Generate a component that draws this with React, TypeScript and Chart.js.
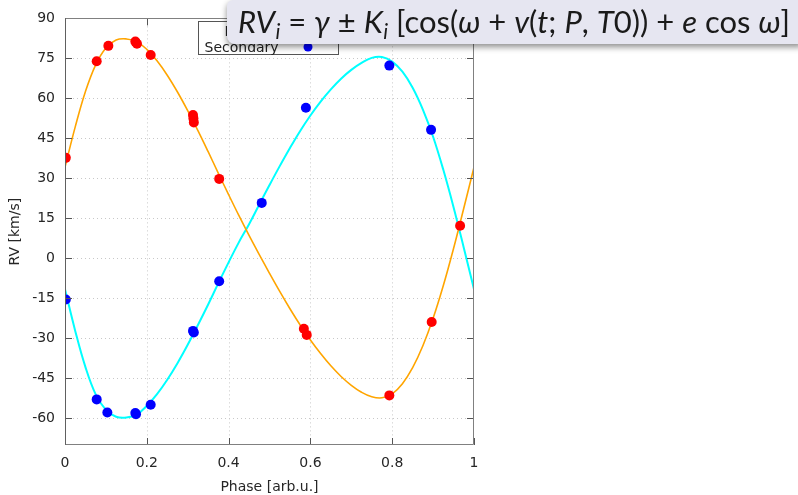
import React, { useEffect, useRef } from 'react';
import { Chart, registerables } from 'chart.js';

Chart.register(...registerables);

// Model curves
const CURVE_PHASE = [0, 0.025, 0.05, 0.075, 0.1, 0.125, 0.15, 0.175, 0.2, 0.225, 0.25, 0.275, 0.3, 0.325, 0.35, 0.375, 0.4, 0.425, 0.45, 0.475, 0.5, 0.525, 0.55, 0.575, 0.6, 0.625, 0.65, 0.675, 0.7, 0.725, 0.75, 0.775, 0.8, 0.825, 0.85, 0.875, 0.9, 0.925, 0.95, 0.975, 1];
const PRIMARY_CURVE = [34.2, 49.3, 62.6, 72.6, 78.9, 81.9, 82.3, 81.3, 78.4, 74.1, 68.7, 62.4, 55.4, 47.9, 40.0, 31.9, 23.9, 16.1, 8.6, 1.4, -5.6, -12.4, -18.9, -25.0, -30.6, -35.7, -40.3, -44.3, -47.6, -50.2, -51.9, -52.3, -50.8, -47.0, -41.0, -32.8, -22.5, -10.2, 3.7, 18.8, 34.2];
const SECONDARY_CURVE = [-11.6, -27.2, -40.8, -51.0, -56.8, -59.4, -59.7, -58.6, -55.3, -50.9, -45.5, -39.3, -32.4, -25.0, -17.3, -9.3, -1.5, 6.0, 12.8, 20.2, 27.5, 34.6, 41.4, 47.8, 53.6, 58.8, 63.4, 67.4, 70.7, 73.3, 75.2, 75.5, 73.8, 70.0, 64.0, 55.8, 45.6, 33.2, 19.2, 4.0, -11.6];

// Measured points
const PRIMARY_PHASE = [0.002, 0.0775, 0.106, 0.172, 0.176, 0.2095, 0.313, 0.314, 0.315, 0.377, 0.584, 0.591, 0.793, 0.8965, 0.966];
const PRIMARY_RV = [37.7, 73.9, 79.7, 81.3, 80.5, 76.3, 53.8, 52.5, 51, 29.8, -26.4, -28.7, -51.4, -23.9, 12.2];
const SECONDARY_PHASE = [0.002, 0.0775, 0.1035, 0.172, 0.1736, 0.2095, 0.313, 0.315, 0.377, 0.481, 0.589, 0.793, 0.895];
const SECONDARY_RV = [-15.4, -52.9, -57.8, -58, -58.5, -54.9, -27.2, -27.8, -8.6, 20.8, 56.5, 72.3, 48.2];

const X_TICKS = [0, 0.2, 0.4, 0.6, 0.8, 1];
const X_TICK_LABELS = ['0', '0.2', '0.4', '0.6', '0.8', '1'];
const Y_TICKS = [-60, -45, -30, -15, 0, 15, 30, 45, 60, 75, 90];
const LEGEND_LABELS = ['Primary', 'Secondary'];

const FONT = 'DejaVu Sans';

const pts = (xs: number[], ys: number[]) => xs.map((x, i) => ({ x, y: ys[i] }));

const framePlugin = {
  id: 'gnuFrame',
  beforeDatasetsDraw(chart: any) {
    const { ctx, chartArea: a, scales } = chart;
    const x = scales.x, y = scales.y;
    ctx.save();
    ctx.strokeStyle = '#c8c8c8';
    ctx.lineWidth = 1;
    ctx.setLineDash([1, 3]);
    for (const v of Y_TICKS) {
      if (v <= y.min || v >= y.max) continue;
      const py = Math.round(y.getPixelForValue(v)) + 0.5;
      ctx.beginPath(); ctx.moveTo(a.left, py); ctx.lineTo(a.right, py); ctx.stroke();
    }
    for (const v of X_TICKS) {
      if (v <= x.min || v >= x.max) continue;
      const px = Math.round(x.getPixelForValue(v)) + 0.5;
      ctx.beginPath(); ctx.moveTo(px, a.top); ctx.lineTo(px, a.bottom); ctx.stroke();
    }
    ctx.restore();
  },
  afterDatasetsDraw(chart: any) {
    const { ctx, chartArea: a, scales } = chart;
    const x = scales.x, y = scales.y;
    ctx.save();
    // ticks
    ctx.strokeStyle = '#555';
    ctx.lineWidth = 1;
    const TL = 7;
    for (const v of Y_TICKS) {
      const py = Math.round(y.getPixelForValue(v)) + 0.5;
      ctx.beginPath();
      ctx.moveTo(a.left, py); ctx.lineTo(a.left + TL, py);
      ctx.moveTo(a.right, py); ctx.lineTo(a.right - TL, py);
      ctx.stroke();
    }
    for (const v of X_TICKS) {
      const px = Math.round(x.getPixelForValue(v)) + 0.5;
      ctx.beginPath();
      ctx.moveTo(px, a.bottom); ctx.lineTo(px, a.bottom - TL);
      ctx.moveTo(px, a.top); ctx.lineTo(px, a.top + TL);
      ctx.stroke();
    }
    // frame
    ctx.strokeStyle = '#808080';
    const l = Math.round(a.left) + 0.5, r = Math.round(a.right) - 0.5;
    const t = Math.round(a.top) + 0.5, b = Math.round(a.bottom) - 0.5;
    ctx.beginPath();
    ctx.moveTo(l, t); ctx.lineTo(r, t); ctx.lineTo(r, b); ctx.lineTo(l, b);
    ctx.stroke();
    ctx.strokeStyle = '#606060';
    ctx.beginPath(); ctx.moveTo(l, t); ctx.lineTo(l, b); ctx.stroke();

    // legend box (gnuplot style: right-justified text, then sample)
    const bx = 198.5, by = 21.5, bw = 140, bh = 33;
    ctx.fillStyle = '#ffffff';
    ctx.fillRect(bx, by, bw, bh);
    ctx.strokeStyle = '#555';
    ctx.strokeRect(bx, by, bw, bh);
    ctx.font = `14px "${FONT}"`;
    ctx.textBaseline = 'middle';
    ctx.textAlign = 'right';
    const textRight = bx + 6 + Math.max(...LEGEND_LABELS.map((s) => ctx.measureText(s).width));
    const colors = ['#ff0000', '#0000ff'];
    LEGEND_LABELS.forEach((lab, i) => {
      const cy = by + 10.5 + i * 16;
      ctx.fillStyle = '#222';
      ctx.fillText(lab, textRight, cy);
      ctx.fillStyle = colors[i];
      ctx.beginPath(); ctx.arc(308, cy - 1, 4.5, 0, Math.PI * 2); ctx.fill();
    });
    ctx.restore();
  },
};

export default function App() {
  const ref = useRef<HTMLCanvasElement | null>(null);
  useEffect(() => {
    if (!ref.current) return;
    const chart = new Chart(ref.current, {
      type: 'scatter',
      data: {
        datasets: [
          {
            label: 'Primary',
            data: pts(PRIMARY_PHASE, PRIMARY_RV),
            backgroundColor: '#ff0000',
            borderColor: '#ff0000',
            pointRadius: 5,
            pointBorderWidth: 0,
            showLine: false,
          },
          {
            label: 'Secondary',
            data: pts(SECONDARY_PHASE, SECONDARY_RV),
            backgroundColor: '#0000ff',
            borderColor: '#0000ff',
            pointRadius: 5,
            pointBorderWidth: 0,
            showLine: false,
          },
          {
            label: 'Primary model',
            data: pts(CURVE_PHASE, PRIMARY_CURVE),
            borderColor: '#ffa500',
            borderWidth: 1.6,
            pointRadius: 0,
            showLine: true,
            tension: 0.4,
          },
          {
            label: 'Secondary model',
            data: pts(CURVE_PHASE, SECONDARY_CURVE),
            borderColor: '#00ffff',
            borderWidth: 2,
            pointRadius: 0,
            showLine: true,
            tension: 0.4,
          },
        ],
      } as any,
      options: {
        animation: false,
        responsive: false,
        devicePixelRatio: 1,
        layout: { padding: { top: 15, right: 324, left: 0, bottom: 0 } },
        plugins: { legend: { display: false }, tooltip: { enabled: false } },
        scales: {
          x: {
            type: 'linear',
            min: 0,
            max: 1,
            grid: { display: false, drawTicks: false },
            border: { display: false },
            afterBuildTicks: (s: any) => { s.ticks = X_TICKS.map((v) => ({ value: v })); },
            afterFit: (s: any) => { s.height = 50; },
            ticks: {
              padding: 10,
              color: '#262626',
              font: { family: FONT, size: 14 },
              maxRotation: 0,
              autoSkip: false,
              callback: (v: any) => {
                const i = X_TICKS.indexOf(Number(v));
                return i >= 0 ? X_TICK_LABELS[i] : '';
              },
            },
            title: { display: true, text: 'Phase [arb.u.]', color: '#262626', font: { family: FONT, size: 14 }, padding: { top: 0, bottom: -1 } },
          },
          y: {
            type: 'linear',
            min: -70,
            max: 90,
            grid: { display: false, drawTicks: false },
            border: { display: false },
            afterBuildTicks: (s: any) => { s.ticks = Y_TICKS.map((v) => ({ value: v })); },
            afterFit: (s: any) => { s.width = 65; },
            ticks: {
              padding: 10,
              color: '#262626',
              font: { family: FONT, size: 14 },
              autoSkip: false,
              callback: (v: any) => String(v),
            },
            title: { display: true, text: 'RV [km/s]', color: '#262626', font: { family: FONT, size: 14 }, padding: { top: 7, bottom: 0 } },
          },
        },
      } as any,
      plugins: [framePlugin],
    });
    return () => chart.destroy();
  }, []);

  const sub: React.CSSProperties = { fontSize: '0.68em', fontStyle: 'italic', position: 'relative', top: '0.3em', marginLeft: '0.02em' };
  return (
    <div style={{ position: 'fixed', left: 0, top: 0, width: 798, height: 495, background: '#fff', overflow: 'hidden' }}>
      <canvas ref={ref} width={798} height={495} style={{ position: 'absolute', left: 0, top: 0, width: 798, height: 495 }} />
      <div
        style={{
          position: 'absolute', left: 227, top: 0, width: 575, height: 44,
          background: '#e6e6f1', borderRadius: '6px 0 0 8px',
          boxShadow: '0 3px 6px rgba(0,0,0,0.45)',
          fontFamily: 'Lato, "Open Sans", sans-serif', fontSize: 31, color: '#1a1a1a',
          whiteSpace: 'nowrap', lineHeight: '42px', paddingLeft: 11, boxSizing: 'border-box',
        }}
      >
        <i>RV</i><span style={sub}>i</span>{' = '}<i>γ</i>{' ± '}<i>K</i><span style={sub}>i</span>{' [cos('}<i>ω</i>{' + '}<i>v</i>{'('}<i>t</i>{'; '}<i>P</i>{', '}<i>T</i>{'0)) + '}<i>e</i>{' cos '}<i>ω</i>{']'}
      </div>
    </div>
  );
}
